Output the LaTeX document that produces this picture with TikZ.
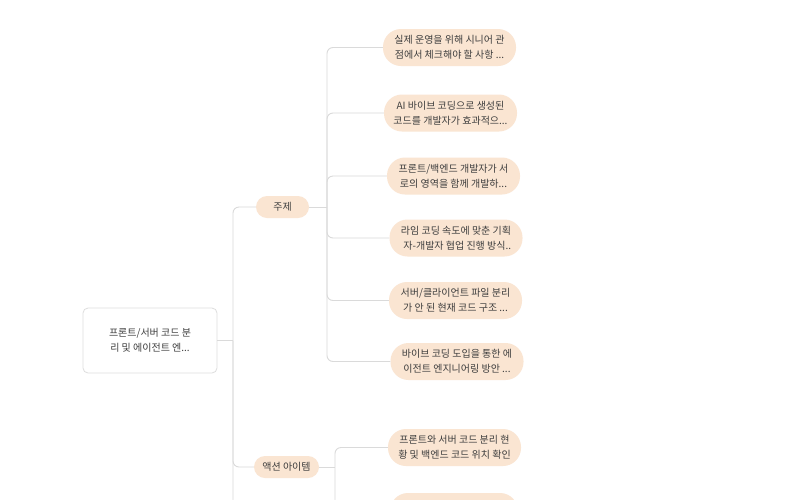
\documentclass[tikz,border=0pt]{standalone}
\usepackage{fontspec}
\setmainfont{Noto Sans CJK KR}
\definecolor{pillfill}{HTML}{FAE5D2}
\definecolor{linegray}{HTML}{DADADA}
\definecolor{boxline}{HTML}{DDDDDD}
\definecolor{txt}{HTML}{3E3E3E}
\begin{document}
\begin{tikzpicture}[x=1pt,y=-1pt,
  every node/.style={font=\fontsize{10}{15}\selectfont, text=txt, align=center, inner sep=0pt},
  pill/.style={fill=pillfill, rounded corners=18pt, minimum width=133pt, minimum height=37pt},
  smallpill/.style={fill=pillfill, rounded corners=11pt, minimum height=22pt},
  rootbox/.style={draw=boxline, fill=white, line width=0.8pt, rounded corners=5pt, minimum width=134pt, minimum height=65pt},
  conn/.style={draw=linegray, line width=0.9pt, rounded corners=6pt}]
\useasboundingbox (0,0) rectangle (800,499);
\clip (0,0) rectangle (800,499);
\fill[white] (0,0) rectangle (800,499);

% root
\node[rootbox] (root) at (150,340.5) {프론트/서버 코드 분\\리 및 에이전트 엔...};

% level 1
\node[smallpill, minimum width=53pt] (juje) at (282.5,207) {주제};
\node[smallpill, minimum width=65pt] (act) at (286.5,467) {액션 아이템};

% children of 주제
\node[pill] (c1) at (449.5,47.5) {실제 운영을 위해 시니어 관\\점에서 체크해야 할 사항 ...};
\node[pill] (c2) at (450.5,113) {AI 바이브 코딩으로 생성된\\코드를 개발자가 효과적으...};
\node[pill] (c3) at (453.5,176) {프론트/백엔드 개발자가 서\\로의 영역을 함께 개발하...};
\node[pill] (c4) at (456,238) {라임 코딩 속도에 맞춘 기획\\\hspace*{0.25em}자-개발자 협업 진행 방식..};
\node[pill] (c5) at (455.5,300.5) {서버/클라이언트 파일 분리\\가 안 된 현재 코드 구조 ...};
\node[pill] (c6) at (457,361.5) {바이브 코딩 도입을 통한 에\\이전트 엔지니어링 방안 ...};

% children of 액션 아이템
\node[pill] (a1) at (454.5,447.5) {프론트와 서버 코드 분리 현\\황 및 백엔드 코드 위치 확인};
\node[pill, minimum width=128pt] (a2) at (454,511.5) {};

% connectors root level
\coordinate (rv) at (233,340.5);
\coordinate (rbot) at (233,510);
\draw[conn] (root.east) -- (rv);
\draw[conn] (juje.west) -- (233,207) -- (rbot);
\draw[conn] (rv) |- (act.west);

% connectors 주제
\coordinate (jv) at (327,207);
\draw[conn] (juje.east) -- (jv);
\draw[conn] (c1.west) -- (327,47.5) -- (327,361.5) -- (c6.west);
\draw[conn] (jv) |- (c2.west);
\draw[conn] (jv) |- (c3.west);
\draw[conn] (jv) |- (c4.west);
\draw[conn] (jv) |- (c5.west);

% connectors 액션 아이템
\coordinate (av) at (335,467);
\draw[conn] (act.east) -- (av);
\draw[conn] (a1.west) -- (335,447.5) -- (335,511.5) -- (a2.west);
\end{tikzpicture}
\end{document}
